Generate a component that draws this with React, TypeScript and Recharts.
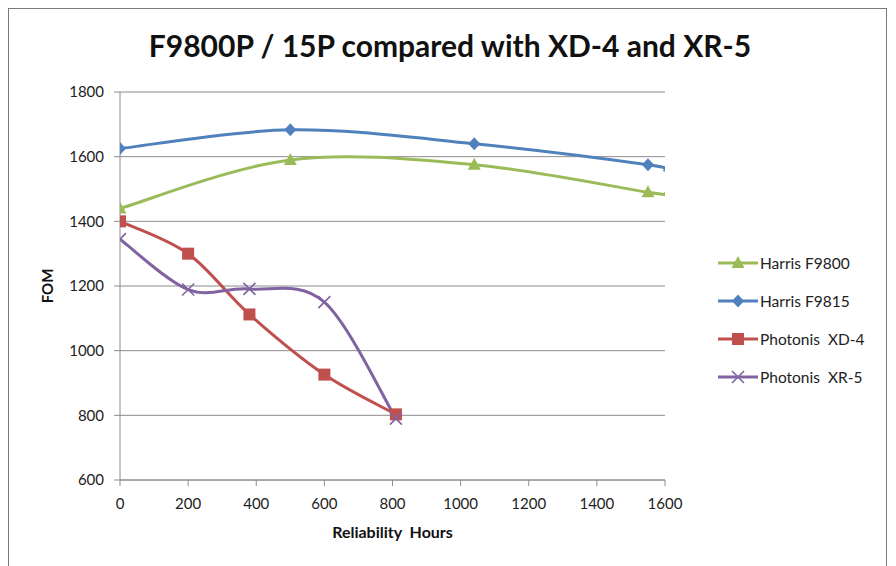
import React from "react";
import { CartesianGrid, Line, LineChart, XAxis, YAxis } from "recharts";

const xTicks = [0, 200, 400, 600, 800, 1000, 1200, 1400, 1600];
const yTicks = [600, 800, 1000, 1200, 1400, 1600, 1800];

const harrisF9800 = [
  { x: 0, y: 1440 },
  { x: 500, y: 1590 },
  { x: 1040, y: 1575 },
  { x: 1550, y: 1490 },
  { x: 1600, y: 1485, hidden: true },
];
const harrisF9815 = [
  { x: 0, y: 1625 },
  { x: 500, y: 1683 },
  { x: 1040, y: 1640 },
  { x: 1550, y: 1575 },
  { x: 1600, y: 1557, hidden: true },
];
const photonisXD4 = [
  { x: 0, y: 1400 },
  { x: 200, y: 1300 },
  { x: 380, y: 1112 },
  { x: 600, y: 926 },
  { x: 810, y: 803 },
];
const photonisXR5 = [
  { x: 0, y: 1345 },
  { x: 200, y: 1189 },
  { x: 380, y: 1191 },
  { x: 600, y: 1150 },
  { x: 810, y: 790 },
];

const FONT = "Lato, 'Open Sans', sans-serif";

// Excel-style smoothed line (Catmull-Rom through the points)
const excelCurve = (context: any) => {
  let pts: number[][] = [];
  return {
    areaStart() {},
    areaEnd() {},
    lineStart() {
      pts = [];
    },
    point(x: number, y: number) {
      pts.push([+x, +y]);
    },
    lineEnd() {
      if (!pts.length) return;
      context.moveTo(pts[0][0], pts[0][1]);
      for (let i = 0; i < pts.length - 1; i++) {
        const p0 = pts[i - 1] || pts[i];
        const p1 = pts[i];
        const p2 = pts[i + 1];
        const p3 = pts[i + 2] || p2;
        context.bezierCurveTo(
          p1[0] + (p2[0] - p0[0]) / 6,
          p1[1] + (p2[1] - p0[1]) / 6,
          p2[0] - (p3[0] - p1[0]) / 6,
          p2[1] - (p3[1] - p1[1]) / 6,
          p2[0],
          p2[1]
        );
      }
    },
  };
};

type Shape = "triangle" | "diamond" | "square" | "cross";

function marker(shape: Shape, color: string, cx: number, cy: number, key?: string) {
  if (shape === "triangle")
    return <path key={key} d={`M${cx},${cy - 7}L${cx + 6.5},${cy + 5}L${cx - 6.5},${cy + 5}Z`} fill={color} />;
  if (shape === "diamond")
    return <path key={key} d={`M${cx},${cy - 6.5}L${cx + 6},${cy}L${cx},${cy + 6.5}L${cx - 6},${cy}Z`} fill={color} />;
  if (shape === "square")
    return <rect key={key} x={cx - 6} y={cy - 6} width={12} height={12} fill={color} />;
  return (
    <path
      key={key}
      d={`M${cx - 6},${cy - 6}L${cx + 6},${cy + 6}M${cx - 6},${cy + 6}L${cx + 6},${cy - 6}`}
      stroke={color}
      strokeWidth={1.6}
      fill="none"
    />
  );
}

const dotFor = (shape: Shape, color: string) => (props: any) => {
  const { cx, cy, payload, index } = props;
  if (payload?.hidden || cx == null) return <g key={`d${index}`} />;
  return marker(shape, color, cx, cy, `d${index}`);
};

const series = [
  { name: "Harris F9800", data: harrisF9800, color: "#9BBB59", shape: "triangle" as Shape },
  { name: "Harris F9815", data: harrisF9815, color: "#4F81BD", shape: "diamond" as Shape },
  { name: "Photonis  XD-4", data: photonisXD4, color: "#C0504D", shape: "square" as Shape },
  { name: "Photonis  XR-5", data: photonisXR5, color: "#8064A2", shape: "cross" as Shape },
];

function LegendBox() {
  return (
    <div style={{ position: "absolute", left: 710, top: 236 }}>
      {series.map((s) => (
        <div key={s.name} style={{ display: "flex", alignItems: "center", height: 38 }}>
          <svg width={42} height={16}>
            <line x1={0} y1={8} x2={40} y2={8} stroke={s.color} strokeWidth={3} />
            {marker(s.shape, s.color, 20, 8)}
          </svg>
          <span style={{ fontFamily: FONT, fontSize: 15.5, color: "#222", whiteSpace: "pre" }}>{s.name}</span>
        </div>
      ))}
    </div>
  );
}

export default function App() {
  return (
    <div style={{ position: "relative", width: 880, height: 558, background: "#fff" }}>
      <svg
        width={880}
        height={558}
        style={{ position: "absolute", left: 0, top: 0, zIndex: 2, pointerEvents: "none" }}
      >
        <rect x={0.5} y={0.5} width={878} height={570} fill="none" stroke="#7a7a7a" strokeWidth={1} />
      </svg>
      <div
        style={{
          position: "absolute",
          left: 0,
          width: 884,
          top: 19,
          textAlign: "center",
          fontFamily: FONT,
          fontWeight: 700,
          fontSize: 30,
          color: "#111",
        }}
      >
        F9800P / 15P compared with XD-4 and XR-5
      </div>
      <LineChart width={880} height={558} margin={{ top: 84, right: 223, bottom: 56, left: 52 }}>
        <CartesianGrid vertical={false} stroke="#8c8c8c" strokeWidth={1} />
        <XAxis
          type="number"
          dataKey="x"
          domain={[0, 1600]}
          ticks={xTicks}
          allowDataOverflow
          stroke="#8c8c8c"
          tickSize={6}
          tick={{ fill: "#222", fontSize: 15, fontFamily: FONT, dy: 10 }}
          height={30}
          label={{
            value: "Reliability\u00a0\u00a0Hours",
            position: "insideBottom",
            offset: -28,
            style: { fontFamily: FONT, fontWeight: 700, fontSize: 16, fill: "#111" },
          }}
        />
        <YAxis
          type="number"
          domain={[600, 1800]}
          ticks={yTicks}
          stroke="#8c8c8c"
          tickSize={6}
          width={60}
          tick={{ fill: "#222", fontSize: 15, fontFamily: FONT, dx: -8 }}
          label={{
            value: "FOM",
            angle: -90,
            position: "insideLeft",
            offset: -12,
            style: { fontFamily: FONT, fontWeight: 700, fontSize: 15, fill: "#111", textAnchor: "middle" },
          }}
        />
        {series.map((s) => (
          <Line
            key={s.name}
            data={s.data}
            dataKey="y"
            name={s.name}
            type={excelCurve as any}
            stroke={s.color}
            strokeWidth={3}
            dot={dotFor(s.shape, s.color)}
            activeDot={false}
            isAnimationActive={false}
          />
        ))}
      </LineChart>
      <LegendBox />
    </div>
  );
}
